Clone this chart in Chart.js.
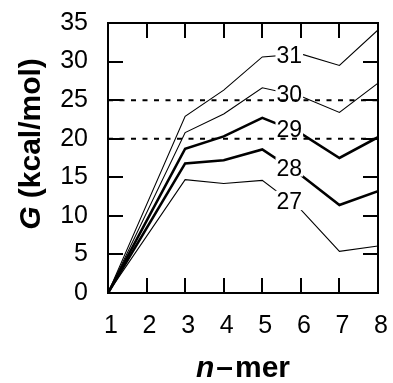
<!DOCTYPE html>
<html><head><meta charset="utf-8">
<script src="https://cdn.jsdelivr.net/npm/chart.js@4"></script>
<style>html,body{margin:0;padding:0;background:#fff}</style>
</head><body>
<canvas id="c" width="393" height="383"></canvas>
<script>
// ---- data ----
const nmer = [1, 3, 4, 5, 6, 7, 8];
const g31 = [0, 22.9, 26.3, 30.6, 31.0, 29.5, 34.1];
const g30 = [0, 20.8, 23.2, 26.6, 25.5, 23.4, 27.2];
const g29 = [0, 18.7, 20.3, 22.7, 20.7, 17.5, 20.2];
const g28 = [0, 16.8, 17.2, 18.6, 15.3, 11.4, 13.2];
const g27 = [0, 14.7, 14.2, 14.6, 10.8, 5.4, 6.1];
const seriesNames = ['31', '30', '29', '28', '27'];
const refLevels = [25, 20];
const xTicks = [1, 2, 3, 4, 5, 6, 7, 8];
const yTicks = [0, 5, 10, 15, 20, 25, 30, 35];
const labelAtX = 5.7;

const FONT = '"Liberation Sans", Arial, Helvetica, sans-serif';
const seriesValues = [g31, g30, g29, g28, g27];
const seriesWidths = [1.1, 1.1, 2.6, 2.6, 1.1];

const refSets = refLevels.map(v => ({
  label: 'ref' + v,
  data: [{x: xTicks[0], y: v}, {x: xTicks[xTicks.length - 1], y: v}],
  borderColor: '#000', borderWidth: 2, borderDash: [5, 6.5],
  pointRadius: 0, fill: false, tension: 0
}));
const mainSets = seriesValues.map((vals, i) => ({
  label: seriesNames[i],
  data: nmer.map((x, j) => ({x: x, y: vals[j]})),
  borderColor: '#000', borderWidth: seriesWidths[i],
  pointRadius: 0, fill: false, tension: 0
}));
const firstMain = refSets.length;

function interp(data, x) {
  for (let i = 0; i < data.length - 1; i++) {
    if (x >= data[i].x && x <= data[i + 1].x) {
      const t = (x - data[i].x) / (data[i + 1].x - data[i].x);
      return data[i].y + t * (data[i + 1].y - data[i].y);
    }
  }
  return data[data.length - 1].y;
}

const labelPlugin = {
  id: 'seriesLabels',
  afterDatasetDraw(chart, args) {
    if (args.index !== firstMain) return;
    const ctx = chart.ctx, xs = chart.scales.x, ys = chart.scales.y;
    const size = 23, cap = size * 0.716;
    ctx.save();
    ctx.font = size + 'px ' + FONT;
    ctx.textAlign = 'center';
    ctx.textBaseline = 'alphabetic';
    chart.data.datasets.forEach((ds, i) => {
      if (i < firstMain) return;
      const px = xs.getPixelForValue(labelAtX);
      const py = ys.getPixelForValue(interp(ds.data, labelAtX));
      const w = ctx.measureText(ds.label).width;
      ctx.fillStyle = '#fff';
      ctx.fillRect(px - w / 2 - 1, py - cap / 2 - 2, w + 2, cap + 3);
      ctx.fillStyle = '#000';
      ctx.fillText(ds.label, px, py + cap / 2);
    });
    ctx.restore();
  }
};

const framePlugin = {
  id: 'frame',
  afterDraw(chart) {
    const ctx = chart.ctx, a = chart.chartArea, xs = chart.scales.x, ys = chart.scales.y;
    const tl = 15;
    ctx.save();
    ctx.strokeStyle = '#000';
    ctx.lineWidth = 2;
    ctx.strokeRect(a.left, a.top, a.right - a.left, a.bottom - a.top);
    ctx.beginPath();
    xTicks.slice(1, -1).forEach(v => {
      const x = Math.round(xs.getPixelForValue(v));
      ctx.moveTo(x, a.bottom); ctx.lineTo(x, a.bottom - tl);
      ctx.moveTo(x, a.top); ctx.lineTo(x, a.top + tl);
    });
    yTicks.slice(1, -1).forEach(v => {
      const y = Math.round(ys.getPixelForValue(v));
      ctx.moveTo(a.left, y); ctx.lineTo(a.left + tl, y);
      ctx.moveTo(a.right, y); ctx.lineTo(a.right - tl, y);
    });
    ctx.stroke();

    // axis titles
    ctx.fillStyle = '#000';
    ctx.textBaseline = 'alphabetic';
    const fs = 30;
    const cx = (a.left + a.right) / 2;
    const parts = [
      {t: 'n', f: 'italic bold ' + fs + 'px ' + FONT, gap: 2},
      {t: '\u2013', f: 'bold ' + fs + 'px ' + FONT, gap: 2},
      {t: 'mer', f: 'bold ' + fs + 'px ' + FONT, gap: 0}
    ];
    let total = 0;
    parts.forEach(p => { ctx.font = p.f; p.w = ctx.measureText(p.t).width; total += p.w + p.gap; });
    let x0 = cx - total / 2;
    parts.forEach(p => { ctx.font = p.f; ctx.textAlign = 'left'; ctx.fillText(p.t, x0, 377); x0 += p.w + p.gap; });

    ctx.translate(40, 144);
    ctx.rotate(-Math.PI / 2);
    const yp = [
      {t: 'G', f: 'italic bold ' + fs + 'px ' + FONT},
      {t: ' (kcal/mol)', f: 'bold ' + fs + 'px ' + FONT}
    ];
    let tw = 0;
    yp.forEach(p => { ctx.font = p.f; p.w = ctx.measureText(p.t).width; tw += p.w; });
    let y0 = -tw / 2;
    yp.forEach(p => { ctx.font = p.f; ctx.textAlign = 'left'; ctx.fillText(p.t, y0, 0); y0 += p.w; });
    ctx.restore();
  }
};

function zeroPad(s) { s.paddingTop = 0; s.paddingBottom = 0; s.paddingLeft = 0; s.paddingRight = 0; }

new Chart(document.getElementById('c'), {
  type: 'line',
  data: { datasets: refSets.concat(mainSets) },
  options: {
    responsive: false, animation: false, devicePixelRatio: 1,
    layout: { padding: { top: 23, right: 15, left: 0, bottom: 0 } },
    plugins: { legend: { display: false }, tooltip: { enabled: false } },
    scales: {
      x: {
        type: 'linear', min: 1, max: 8,
        grid: { display: false, drawTicks: false }, border: { display: false },
        afterBuildTicks: s => { s.ticks = xTicks.map(v => ({value: v})); },
        afterFit: s => { s.height = 90; zeroPad(s); },
        ticks: { color: '#000', padding: 18, labelOffset: 3, font: { family: FONT, size: 25 }, maxRotation: 0 }
      },
      y: {
        type: 'linear', min: 0, max: 35,
        grid: { display: false, drawTicks: false }, border: { display: false },
        afterBuildTicks: s => { s.ticks = yTicks.map(v => ({value: v})); },
        afterFit: s => { s.width = 108; zeroPad(s); },
        ticks: { color: '#000', padding: 20, font: { family: FONT, size: 25 } }
      }
    }
  },
  plugins: [labelPlugin, framePlugin]
});
</script>
</body></html>
